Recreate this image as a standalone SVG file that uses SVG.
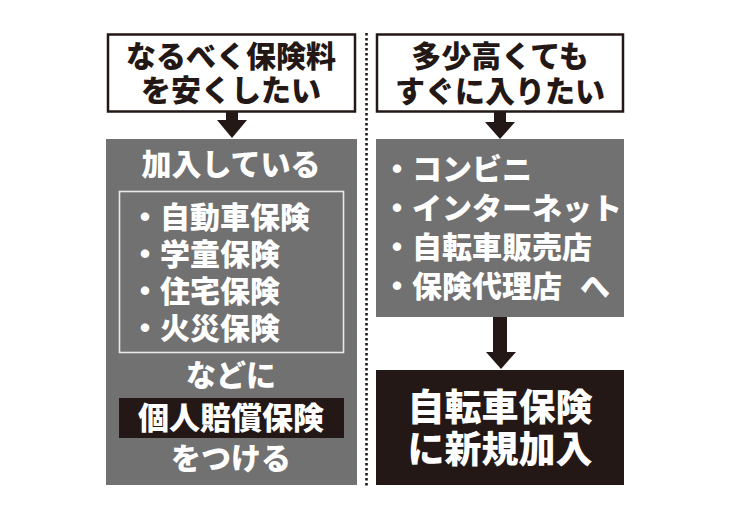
<svg xmlns="http://www.w3.org/2000/svg" width="750" height="518" viewBox="0 0 750 518">
<style>
text{font-family:"Noto Sans CJK JP","Noto Sans CJK SC",sans-serif;font-weight:900;}
.dark{fill:#231815;}
.gray{fill:#727171;}
.wbox{fill:#ffffff;stroke:#231815;stroke-width:2.5;}
.tb{fill:#231815;font-size:30px;text-anchor:middle;}
.tw{fill:#ffffff;font-size:30px;}
.s31{font-size:31px;}
.s37{font-size:37px;}
.mid{text-anchor:middle;}
</style>
<rect width="750" height="518" fill="#ffffff"/>
<line x1="366.5" y1="33" x2="366.5" y2="488" stroke="#231815" stroke-width="2.6" stroke-dasharray="2.6 2.4"/>
<g id="left-top">
<rect class="wbox" x="108" y="34.5" width="247" height="77"/>
<text class="tb" x="231" y="67">なるべく保険料</text>
<text class="tb" x="231" y="101">を安くしたい</text>
</g>
<g id="left-main">
<rect class="gray" x="106" y="139" width="251" height="346"/>
<text class="tw mid" x="231" y="175">加入している</text>
<rect x="119.5" y="191.5" width="224" height="161" fill="none" stroke="#e8e8e8" stroke-width="1.6"/>
<text class="tw" x="130" y="228">・自動車保険</text>
<text class="tw" x="130" y="265">・学童保険</text>
<text class="tw" x="130" y="302">・住宅保険</text>
<text class="tw" x="130" y="339">・火災保険</text>
<text class="tw mid" x="231" y="386">などに</text>
<rect class="dark" x="119" y="398" width="225" height="40"/>
<text class="tw mid s31" x="231" y="429">個人賠償保険</text>
<text class="tw mid" x="231" y="469">をつける</text>
</g>
<g id="right-top">
<rect class="wbox" x="377" y="34.5" width="246" height="77"/>
<text class="tb" x="500" y="67">多少高くても</text>
<text class="tb" x="500" y="102">すぐに入りたい</text>
</g>
<g id="right-main">
<rect class="gray" x="376" y="139" width="248" height="178"/>
<text class="tw" x="382" y="180">・コンビニ</text>
<text class="tw" x="382" y="219">・インターネット</text>
<text class="tw" x="382" y="258">・自転車販売店</text>
<text class="tw" x="382" y="297">・保険代理店<tspan x="580">へ</tspan></text>
</g>
<g id="right-result">
<rect class="dark" x="376" y="370" width="248" height="115"/>
<text class="tw mid s37" x="500" y="421">自転車保険</text>
<text class="tw mid s37" x="500" y="463">に新規加入</text>
</g>
<g id="connectors">
<polygon class="dark" points="226,112 238,112 238,120 247,120 232,138 217,120 226,120"/>
<polygon class="dark" points="494,112 506,112 506,122 515,122 500,139 485,122 494,122"/>
<polygon class="dark" points="493,317 507,317 507,352 516,352 501,369 486,352 493,352"/>
</g>
</svg>
